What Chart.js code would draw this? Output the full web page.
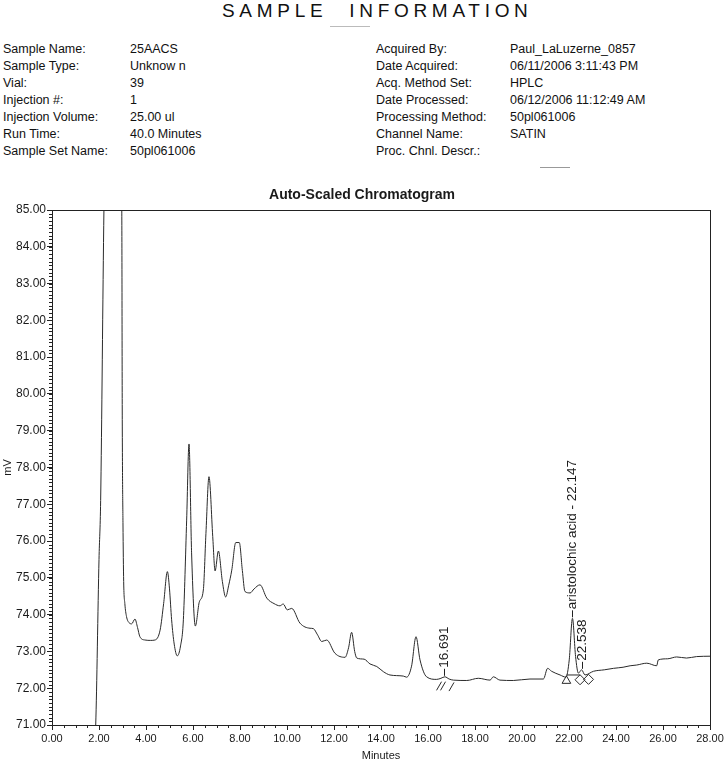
<!DOCTYPE html>
<html>
<head>
<meta charset="utf-8">
<script src="https://cdn.jsdelivr.net/npm/chart.js@4.4.0/dist/chart.umd.min.js"></script>
<style>
  body { margin: 0; background: #fff; width: 724px; height: 761px; position: relative; overflow: hidden;
         font-family: "Liberation Sans", Arial, sans-serif; color: #111; }
  .hdr { position: absolute; left: 222px; top: 0; font-size: 19px; letter-spacing: 4.7px; word-spacing: 12px; line-height: 22px; white-space: nowrap; }
  .row { position: absolute; font-size: 12.5px; line-height: 16px; white-space: nowrap; }
  .smudge { position: absolute; height: 1px; background: #bbb; }
  #wrap { position: absolute; left: 0; top: 180px; width: 724px; height: 583px; }
</style>
</head>
<body>
<div class="hdr">SAMPLE INFORMATION</div>
<div class="smudge" style="left:330px; top:26px; width:40px;"></div>
<div class="smudge" style="left:540px; top:167px; width:30px; background:#999;"></div>
<div id="info"></div>
<div id="wrap"><canvas id="chart" width="724" height="583"></canvas></div>

<script>
// Sample information block
const infoLeft = [
  ['Sample Name:', '25AACS'],
  ['Sample Type:', 'Unknow n'],
  ['Vial:', '39'],
  ['Injection #:', '1'],
  ['Injection Volume:', '25.00 ul'],
  ['Run Time:', '40.0 Minutes'],
  ['Sample Set Name:', '50pl061006']
];
const infoRight = [
  ['Acquired By:', 'Paul_LaLuzerne_0857'],
  ['Date Acquired:', '06/11/2006 3:11:43 PM'],
  ['Acq. Method Set:', 'HPLC'],
  ['Date Processed:', '06/12/2006 11:12:49 AM'],
  ['Processing Method:', '50pl061006'],
  ['Channel Name:', 'SATIN'],
  ['Proc. Chnl. Descr.:', '']
];

// Chromatogram trace (minutes, mV)
const times = [0, 1.80, 1.86, 2.00, 2.07, 2.21, 2.40, 2.60, 2.80, 2.97, 2.99, 3.02, 3.05, 3.10, 3.17, 3.28, 3.39, 3.53, 3.64, 3.74,
  3.96, 4.20, 4.38, 4.60, 4.75, 4.91, 5.00, 5.09, 5.20, 5.33, 5.47, 5.59, 5.73, 5.83, 5.94, 6.10, 6.27, 6.44, 6.55, 6.68,
  6.84, 6.94, 7.08, 7.25, 7.39, 7.52, 7.65, 7.82, 7.97, 8.10, 8.21, 8.43, 8.60, 8.85, 9.14, 9.45, 9.70, 9.84, 10.01, 10.20,
  10.55, 10.98, 11.12, 11.30, 11.48, 11.69, 12.04, 12.47, 12.62, 12.75, 12.88, 12.97, 13.28, 13.53, 13.82, 14.10, 14.38, 14.95, 15.09, 15.30,
  15.49, 15.66, 15.94, 16.37, 16.55, 16.72, 16.90, 17.08, 17.65, 18.14, 18.64, 18.78, 19.06, 19.63, 20.34, 20.91, 21.09, 21.26, 21.62, 21.87,
  22.01, 22.147, 22.28, 22.40, 22.538, 22.68, 23.04, 23.50, 23.89, 24.30, 24.60, 24.88, 25.31, 25.73, 25.80, 26.20, 26.58, 27.00, 27.43, 28.00];
const signal = [70.5, 70.5, 71.0, 75.5, 77.1, 85.0, 92.0, 95.0, 92.0, 85.0, 79.3, 76.5, 74.9, 74.3, 73.95, 73.78, 73.75, 73.88, 73.65, 73.40,
  73.31, 73.30, 73.31, 73.58, 74.30, 75.17, 74.70, 73.86, 73.20, 72.88, 73.15, 73.86, 76.57, 78.64, 75.68, 73.69, 74.35, 74.67, 76.20, 77.75,
  76.12, 75.19, 75.73, 74.90, 74.48, 74.80, 75.21, 75.96, 75.96, 75.20, 74.63, 74.59, 74.70, 74.81, 74.45, 74.30, 74.24, 74.29, 74.13, 74.17,
  73.77, 73.63, 73.62, 73.45, 73.27, 73.31, 72.95, 72.84, 73.10, 73.52, 73.00, 72.82, 72.79, 72.66, 72.59, 72.45, 72.36, 72.33, 72.30, 72.60,
  73.40, 72.77, 72.31, 72.24, 72.27, 72.31, 72.25, 72.22, 72.21, 72.27, 72.22, 72.31, 72.22, 72.21, 72.25, 72.25, 72.54, 72.46, 72.36, 72.30,
  72.77, 73.90, 72.86, 72.41, 72.50, 72.36, 72.46, 72.50, 72.54, 72.57, 72.61, 72.63, 72.68, 72.61, 72.77, 72.80, 72.85, 72.82, 72.86, 72.87];

// Axis ticks
const xTicks = [0, 2, 4, 6, 8, 10, 12, 14, 16, 18, 20, 22, 24, 26, 28];
const yTicks = [71, 72, 73, 74, 75, 76, 77, 78, 79, 80, 81, 82, 83, 84, 85];

// Peak labels
const peakTimes = [16.691, 22.147, 22.538];
const peakHeights = [72.31, 73.90, 72.50];
const peakNames = ['16.691', 'aristolochic acid - 22.147', '22.538'];

// Integration marks: baseline start/end
const markTimes = [21.89, 22.47, 22.83];
const markValues = [72.20, 72.23, 72.24];
const markShapes = ['triangle', 'rectRot', 'rectRot'];
const baseTimes = [21.89, 22.47];
const baseValues = [72.36, 72.36];
const slashTimes = [16.47, 16.64, 17.00];
const slashValues = [72.06, 72.06, 72.04];

// Build the header rows
const info = document.getElementById('info');
function addRow(x, y, text) {
  const d = document.createElement('div');
  d.className = 'row';
  d.style.left = x + 'px';
  d.style.top = y + 'px';
  d.textContent = text;
  info.appendChild(d);
}
infoLeft.forEach(([k, v], i) => {
  const top = 41.4 + i * 16.85;
  addRow(3, top, k);
  addRow(130, top, v);
});
infoRight.forEach(([k, v], i) => {
  const top = 41.4 + i * 16.85;
  addRow(376, top, k);
  addRow(510, top, v);
});

const FONT = '"Liberation Sans", Arial, sans-serif';
const INK = '#1a1a1a';
Chart.defaults.font.family = FONT;
Chart.defaults.color = INK;

// Minor ticks, drawn from the scales
const minorTicks = {
  id: 'minorTicks',
  afterDraw(chart) {
    const { ctx, chartArea: a, scales: { x, y } } = chart;
    ctx.save();
    ctx.strokeStyle = '#222';
    ctx.lineWidth = 1;
    ctx.beginPath();
    for (let k = 0; k <= 56; k++) {
      const px = Math.round(x.getPixelForValue(k / 2)) + 0.5;
      ctx.moveTo(px, a.bottom);
      ctx.lineTo(px, a.bottom + 3);
    }
    for (let k = 710; k <= 850; k++) {
      const py = Math.round(y.getPixelForValue(k / 10)) + 0.5;
      ctx.moveTo(a.left - 3, py);
      ctx.lineTo(a.left, py);
    }
    ctx.stroke();
    ctx.restore();
  }
};

// Box around the plot
const frame = {
  id: 'frame',
  afterDraw(chart) {
    const { ctx, chartArea: a } = chart;
    ctx.save();
    ctx.strokeStyle = '#222';
    ctx.lineWidth = 1;
    ctx.strokeRect(Math.round(a.left) + 0.5, Math.round(a.top) + 0.5,
      Math.round(a.right - a.left), Math.round(a.bottom - a.top));
    ctx.restore();
  }
};

// Vertical peak labels with leader lines
const peakLabels = {
  id: 'peakLabels',
  afterDatasetsDraw(chart) {
    const { ctx, scales: { x, y } } = chart;
    ctx.save();
    ctx.font = '13.5px ' + FONT;
    ctx.fillStyle = INK;
    ctx.strokeStyle = '#222';
    ctx.lineWidth = 1;
    peakTimes.forEach((t, i) => {
      const px = Math.round(x.getPixelForValue(t)) + 0.5;
      const py = y.getPixelForValue(peakHeights[i]);
      ctx.beginPath();
      ctx.moveTo(px, py - 1);
      ctx.lineTo(px, py - 8);
      ctx.stroke();
      ctx.save();
      ctx.translate(px, py - 9);
      ctx.rotate(-Math.PI / 2);
      ctx.textAlign = 'left';
      ctx.textBaseline = 'middle';
      ctx.fillText(peakNames[i], 0, 0);
      ctx.restore();
    });
    ctx.restore();
  }
};

new Chart(document.getElementById('chart'), {
  type: 'line',
  data: {
    datasets: [
      {
        data: times.map((t, i) => ({ x: t, y: signal[i] })),
        borderColor: '#2a2a2a',
        borderWidth: 1,
        pointRadius: 0,
        cubicInterpolationMode: 'monotone',
        fill: false
      },
      {
        data: baseTimes.map((t, i) => ({ x: t, y: baseValues[i] })),
        borderColor: '#2a2a2a',
        borderWidth: 1,
        pointRadius: 0
      },
      {
        data: markTimes.map((t, i) => ({ x: t, y: markValues[i] })),
        showLine: false,
        pointStyle: markShapes,
        pointRadius: 5,
        borderColor: '#2a2a2a',
        backgroundColor: 'rgba(255,255,255,0)',
        borderWidth: 1
      },
      {
        data: slashTimes.map((t, i) => ({ x: t, y: slashValues[i] })),
        showLine: false,
        pointStyle: 'line',
        rotation: -60,
        pointRadius: 5,
        borderColor: '#2a2a2a',
        borderWidth: 1
      }
    ]
  },
  options: {
    responsive: false,
    animation: false,
    layout: { padding: 0 },
    plugins: {
      legend: { display: false },
      tooltip: { enabled: false },
      title: {
        display: true,
        text: 'Auto-Scaled Chromatogram',
        color: INK,
        font: { size: 14, weight: 'bold' },
        padding: { top: 6.6, bottom: 6.6 }
      }
    },
    scales: {
      x: {
        type: 'linear',
        min: 0,
        max: 28,
        afterBuildTicks: s => { s.ticks = xTicks.map(v => ({ value: v })); },
        afterFit: s => { s.height = 38; s.paddingLeft = 0; s.paddingRight = 14; },
        ticks: { callback: v => v.toFixed(2), font: { size: 11 }, color: INK, padding: 2, maxRotation: 0, autoSkip: false },
        grid: { drawOnChartArea: false, tickLength: 5, color: '#222' },
        border: { color: '#222' },
        title: { display: true, text: 'Minutes', font: { size: 11 }, color: INK, padding: { top: 0, bottom: 0 } }
      },
      y: {
        min: 71,
        max: 85,
        afterBuildTicks: s => { s.ticks = yTicks.map(v => ({ value: v })); },
        afterFit: s => { s.width = 52; },
        ticks: { callback: v => v.toFixed(2), font: { size: 12 }, color: INK, padding: 1, autoSkip: false },
        grid: { drawOnChartArea: false, tickLength: 5, color: '#222' },
        border: { color: '#222' },
        title: { display: true, text: 'mV', font: { size: 11 }, color: INK, padding: { top: 1, bottom: 0 } }
      }
    }
  },
  plugins: [minorTicks, frame, peakLabels]
});
</script>
</body>
</html>
